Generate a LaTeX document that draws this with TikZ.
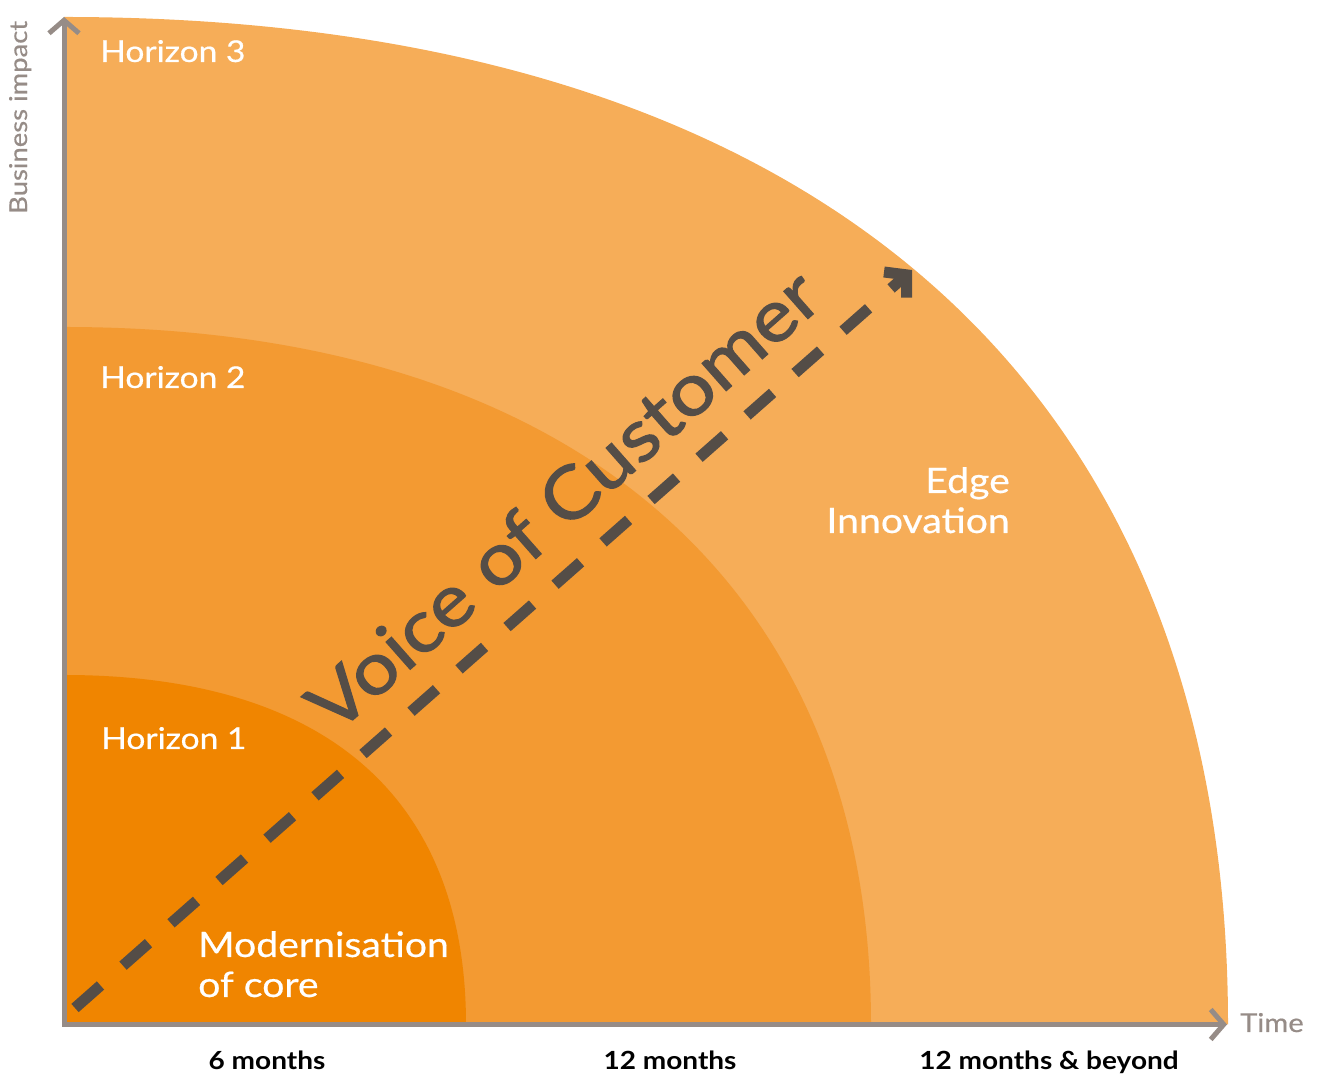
\documentclass[tikz,border=0pt]{standalone}
\usepackage{fontspec}
\setmainfont{Lato}[FakeStretch=1.12]
\usetikzlibrary{arrows.meta,calc}
\definecolor{hone}{HTML}{F08500}
\definecolor{htwo}{HTML}{F39A32}
\definecolor{hthree}{HTML}{F6AD58}
\definecolor{axisgray}{HTML}{968C87}
\definecolor{voicegray}{HTML}{544D47}
\tikzset{
  axisline/.style={draw=axisgray, line width=5pt, line join=miter,
    {Straight Barb[length=13pt,width=30pt]}-{Straight Barb[length=13pt,width=30pt]}},
  voiceline/.style={draw=voicegray, line width=11pt, dash pattern=on 34pt off 30pt,
    -{Straight Barb[length=15pt,width=34pt]}},
  hlabel/.style={text=white, font=\fontsize{30}{36}\selectfont\addfontfeatures{FakeBold=0.5}, inner sep=0pt},
  biglabel/.style={text=white, font=\fontsize{35}{40}\selectfont\addfontfeatures{FakeBold=0.5}, inner sep=0pt},
  axislabel/.style={text=axisgray, font=\fontsize{26}{30}\selectfont\addfontfeatures{FakeBold=0.6}, inner sep=0pt},
  ticklabel/.style={text=black, font=\bfseries\fontsize{25}{29}\selectfont, inner sep=0pt, anchor=base},
}
% quarter of a rounded (slightly squarish) ellipse: x radius, y radius, control factor
\newcommand{\horizonband}[4]{%
  \fill[#4] (O) -- ($(O)+(#1,0)$)
    .. controls ($(O)+(#1,#3*#2)$) and ($(O)+(#3*#1,#2)$) .. ($(O)+(0,#2)$) -- cycle;}
\begin{document}
\begin{tikzpicture}[x=1pt,y=1pt]
\useasboundingbox (0,0) rectangle (1317,1075);
\coordinate (O) at (64,50.5);
\coordinate (ytop) at (64,1058);
\coordinate (xend) at (1227,50.5);

% the three horizons
\horizonband{1164}{1007.5}{0.64}{hthree}
\horizonband{807}{697.5}{0.63}{htwo}
\horizonband{402}{349.5}{0.65}{hone}

% axes
\draw[axisline] (ytop) -- (O) -- (xend);

% voice of customer arrow
\coordinate (vs) at (75,67);
\coordinate (ve) at (912,805);
\draw[voiceline] (vs) -- (ve);
\node[text=voicegray, font=\fontsize{72}{78}\selectfont\addfontfeatures{FakeBold=1.6}, rotate=41.4, inner sep=0pt] (voice) at (563,575) {Voice of Customer};

% labels
\node[hlabel, anchor=base west] (h3) at (100,1013) {Horizon 3};
\node[hlabel, anchor=base west] (h2) at (100,687) {Horizon 2};
\node[hlabel, anchor=base west] (h1) at (101,326) {Horizon 1};
\node[biglabel, anchor=base west] (mod) at (198,118) {Modernisation};
\node[biglabel, anchor=base west] (core) at (198,78) {of core};
\node[biglabel, anchor=base east] (edge) at (1010,582) {Edge};
\node[biglabel, anchor=base east] (innov) at (1010,542) {Innovation};

\node[axislabel, font=\fontsize{24.5}{29}\selectfont\addfontfeatures{FakeBold=0.6}, rotate=90, anchor=base west] (bi) at (27,861) {Business impact};
\node[axislabel, anchor=base west] (time) at (1240,43) {Time};

\node[ticklabel] (t6) at (267,5) {6 months};
\node[ticklabel] (t12) at (670,5) {12 months};
\node[ticklabel] (tb) at (1049,5) {12 months \& beyond};
\end{tikzpicture}
\end{document}
